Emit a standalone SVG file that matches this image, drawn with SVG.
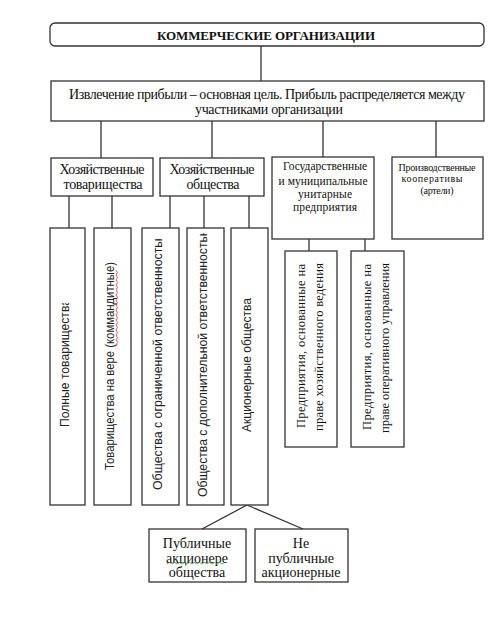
<svg xmlns="http://www.w3.org/2000/svg" width="504" height="625" viewBox="0 0 504 625">
<style>
.box{fill:#fff;stroke:#333;stroke-width:1.3}
.ln{fill:none;stroke:#333;stroke-width:1.3}
text{font-family:"Liberation Serif","DejaVu Serif",serif;fill:#111;dominant-baseline:central}
.c{text-anchor:middle}
.v{font-size:12.5px}
.s{font-family:"Liberation Sans",Arial,sans-serif;font-size:12.5px;fill:#222}
</style>
<defs>
<clipPath id="cl1"><rect x="50" y="303" width="35" height="200"/></clipPath>
<clipPath id="cl3"><rect x="142" y="239" width="37" height="264"/></clipPath>
<clipPath id="cl4"><rect x="187" y="233" width="37" height="270"/></clipPath>
</defs>
<rect width="504" height="625" fill="#fff"/>
<g id="connectors">
<path class="ln" d="M261,46V81M101,121V158M212,121V158M323,121V157M436,121V157M69,196V228M112,196V228M170,196V228M204,196V228M249,196V228M309,239V251M365,239V251M247,505L202,529M247,505L303,529"/>
</g>
<g id="n-title">
<rect class="box" x="50" y="23" width="434" height="23" rx="5"/>
<text class="c" x="266" y="35" font-size="13" font-weight="bold" textLength="218">КОММЕРЧЕСКИЕ ОРГАНИЗАЦИИ</text>
</g>
<g id="n-main">
<rect class="box" x="51" y="81" width="433" height="40"/>
<text x="69" y="94" font-size="14" textLength="396">Извлечение прибыли – основная цель. Прибыль распределяется между</text>
<text class="c" x="269" y="109" font-size="14" textLength="148">участниками организации</text>
</g>
<g id="n-ht">
<rect class="box" x="51" y="158" width="102" height="38"/>
<text class="c" x="102" y="169" font-size="14" textLength="85">Хозяйственные</text>
<text class="c" x="103" y="184" font-size="14" textLength="79">товарищества</text>
</g>
<g id="n-ho">
<rect class="box" x="160" y="158" width="104" height="38"/>
<text class="c" x="212" y="169" font-size="14" textLength="85">Хозяйственные</text>
<text class="c" x="213" y="184" font-size="14" textLength="53">общества</text>
</g>
<g id="n-gov">
<rect class="box" x="272" y="157" width="102" height="82"/>
<text class="c" x="325" y="166" font-size="11.5" textLength="84">Государственные</text>
<text class="c" x="323" y="181" font-size="11.5" textLength="89">и муниципальные</text>
<text class="c" x="325" y="194" font-size="11.5" textLength="54">унитарные</text>
<text class="c" x="325" y="207" font-size="11.5" textLength="64">предприятия</text>
</g>
<g id="n-coop">
<rect class="box" x="392" y="157" width="91" height="82"/>
<text class="c" x="437" y="167" font-size="10" textLength="77">Производственные</text>
<text class="c" x="432" y="178" font-size="10" textLength="61">кооперативы</text>
<text class="c" x="437" y="190" font-size="10" textLength="33">(артели)</text>
</g>
<g id="n-t1">
<rect class="box" x="50" y="228" width="35" height="277"/>
<g clip-path="url(#cl1)"><text class="s" transform="translate(65,427) rotate(-90)" textLength="128" lengthAdjust="spacingAndGlyphs">Полные товарищества</text></g>
</g>
<g id="n-t2">
<rect class="box" x="94" y="228" width="37" height="277"/>
<text class="s" transform="translate(110,470) rotate(-90)" textLength="208" lengthAdjust="spacingAndGlyphs">Товарищества на вере (коммандитные)</text>
<path d="M116,345l1.5,-2.5l-1.5,-2.5l1.5,-2.5l-1.5,-2.5l1.5,-2.5l-1.5,-2.5l1.5,-2.5l-1.5,-2.5l1.5,-2.5l-1.5,-2.5l1.5,-2.5l-1.5,-2.5l1.5,-2.5l-1.5,-2.5l1.5,-2.5l-1.5,-2.5l1.5,-2.5l-1.5,-2.5l1.5,-2.5l-1.5,-2.5l1.5,-2.5l-1.5,-2.5l1.5,-2.5l-1.5,-2.5l1.5,-2.5l-1.5,-2.5l1.5,-2.5l-1.5,-2.5l1.5,-2.5l-1.5,-2.5" fill="none" stroke="#e03030" stroke-width="0.8"/>
</g>
<g id="n-t3">
<rect class="box" x="142" y="228" width="37" height="277"/>
<g clip-path="url(#cl3)"><text class="s" transform="translate(158,490) rotate(-90)" textLength="258" lengthAdjust="spacingAndGlyphs">Общества с ограниченной ответственностью</text></g>
</g>
<g id="n-t4">
<rect class="box" x="187" y="228" width="37" height="277"/>
<g clip-path="url(#cl4)"><text class="s" transform="translate(203,497) rotate(-90)" textLength="270" lengthAdjust="spacingAndGlyphs">Общества с дополнительной ответственностью</text></g>
</g>
<g id="n-t5">
<rect class="box" x="231" y="228" width="37" height="277"/>
<text class="s" transform="translate(247,432) rotate(-90)" textLength="134" lengthAdjust="spacingAndGlyphs">Акционерные общества</text>
</g>
<g id="n-ra">
<rect class="box" x="285" y="251" width="52" height="196"/>
<text class="v" transform="translate(301,428) rotate(-90)" textLength="164">Предприятия, основанные на</text>
<text class="v" transform="translate(319,431) rotate(-90)" textLength="168">праве хозяйственного ведения</text>
</g>
<g id="n-rb">
<rect class="box" x="351" y="251" width="53" height="196"/>
<text class="v" transform="translate(367,430) rotate(-90)" textLength="166">Предприятия, основанные на</text>
<text class="v" transform="translate(385,433) rotate(-90)" textLength="170">праве оперативного управления</text>
</g>
<g id="n-pub">
<rect class="box" x="149" y="529" width="97" height="53"/>
<text class="c" x="197" y="543" font-size="14">Публичные</text>
<text class="c" x="197" y="558" font-size="14">акционере</text>
<text class="c" x="197" y="572" font-size="14">общества</text>
<path d="M167,564l2.5,-1.5l2.5,1.5l2.5,-1.5l2.5,1.5l2.5,-1.5l2.5,1.5l2.5,-1.5l2.5,1.5l2.5,-1.5l2.5,1.5l2.5,-1.5l2.5,1.5l2.5,-1.5l2.5,1.5l2.5,-1.5l2.5,1.5l2.5,-1.5l2.5,1.5l2.5,-1.5l2.5,1.5l2.5,-1.5l2.5,1.5l2.5,-1.5" fill="none" stroke="#40a040" stroke-width="0.8"/>
</g>
<g id="n-npub">
<rect class="box" x="255" y="529" width="93" height="53"/>
<text class="c" x="301" y="543" font-size="14">Не</text>
<text class="c" x="301" y="558" font-size="14">публичные</text>
<text class="c" x="301" y="572" font-size="14">акционерные</text>
</g>
</svg>
